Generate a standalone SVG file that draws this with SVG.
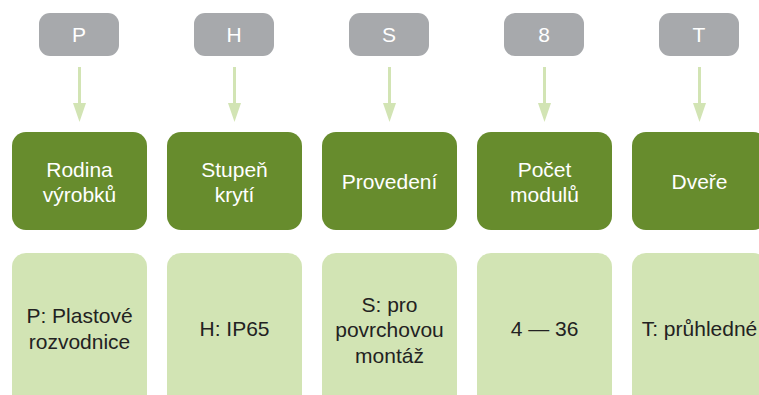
<svg xmlns="http://www.w3.org/2000/svg" width="759" height="395" viewBox="0 0 759 395">
<style>
.code{fill:#a7a9ac}
.cat{fill:#678c2d}
.val{fill:#d2e4b4}
.t{font-family:"Liberation Sans",Arial,sans-serif;font-size:21px;text-anchor:middle}
.tw{fill:#ffffff}
.td{fill:#222222}
.conn{stroke:#d2e4b4;stroke-width:3;fill:none}
.head{fill:#d2e4b4}
</style>
<rect width="759" height="395" fill="#ffffff"/>
<g id="connectors">
<path class="conn" d="M79.5,67 V103"/><path class="head" d="M73,103 H86 L79.5,122 Z"/>
<path class="conn" d="M234.5,67 V103"/><path class="head" d="M228,103 H241 L234.5,122 Z"/>
<path class="conn" d="M389.5,67 V103"/><path class="head" d="M383,103 H396 L389.5,122 Z"/>
<path class="conn" d="M544.5,67 V103"/><path class="head" d="M538,103 H551 L544.5,122 Z"/>
<path class="conn" d="M699.5,67 V103"/><path class="head" d="M693,103 H706 L699.5,122 Z"/>
</g>
<g id="code-P"><rect class="code" x="39" y="13" width="80" height="43" rx="11"/><text class="t tw" x="79" y="42">P</text></g>
<g id="code-H"><rect class="code" x="194" y="13" width="80" height="43" rx="11"/><text class="t tw" x="234" y="42">H</text></g>
<g id="code-S"><rect class="code" x="349" y="13" width="80" height="43" rx="11"/><text class="t tw" x="389" y="42">S</text></g>
<g id="code-8"><rect class="code" x="504" y="13" width="80" height="43" rx="11"/><text class="t tw" x="544" y="42">8</text></g>
<g id="code-T"><rect class="code" x="659" y="13" width="80" height="43" rx="11"/><text class="t tw" x="699" y="42">T</text></g>

<g id="cat-rodina"><rect class="cat" x="12" y="132" width="135" height="98" rx="14"/><text class="t tw" x="79.5" y="177">Rodina</text><text class="t tw" x="79.5" y="202">výrobků</text></g>
<g id="cat-stupen"><rect class="cat" x="167" y="132" width="135" height="98" rx="14"/><text class="t tw" x="234.5" y="177">Stupeň</text><text class="t tw" x="234.5" y="202">krytí</text></g>
<g id="cat-provedeni"><rect class="cat" x="322" y="132" width="135" height="98" rx="14"/><text class="t tw" x="389.5" y="189">Provedení</text></g>
<g id="cat-pocet"><rect class="cat" x="477" y="132" width="135" height="98" rx="14"/><text class="t tw" x="544.5" y="177">Počet</text><text class="t tw" x="544.5" y="202">modulů</text></g>
<g id="cat-dvere"><rect class="cat" x="632" y="132" width="135" height="98" rx="14"/><text class="t tw" x="699.5" y="189">Dveře</text></g>

<g id="val-P"><rect class="val" x="12" y="253" width="135" height="160" rx="14"/><text class="t td" x="79.5" y="323">P: Plastové</text><text class="t td" x="79.5" y="349">rozvodnice</text></g>
<g id="val-H"><rect class="val" x="167" y="253" width="135" height="160" rx="14"/><text class="t td" x="234.5" y="336">H: IP65</text></g>
<g id="val-S"><rect class="val" x="322" y="253" width="135" height="160" rx="14"/><text class="t td" x="389.5" y="312">S: pro</text><text class="t td" x="389.5" y="337">povrchovou</text><text class="t td" x="389.5" y="363">montáž</text></g>
<g id="val-8"><rect class="val" x="477" y="253" width="135" height="160" rx="14"/><text class="t td" x="544.5" y="336">4 — 36</text></g>
<g id="val-T"><rect class="val" x="632" y="253" width="135" height="160" rx="14"/><text class="t td" x="699.5" y="336">T: průhledné</text></g>
</svg>
